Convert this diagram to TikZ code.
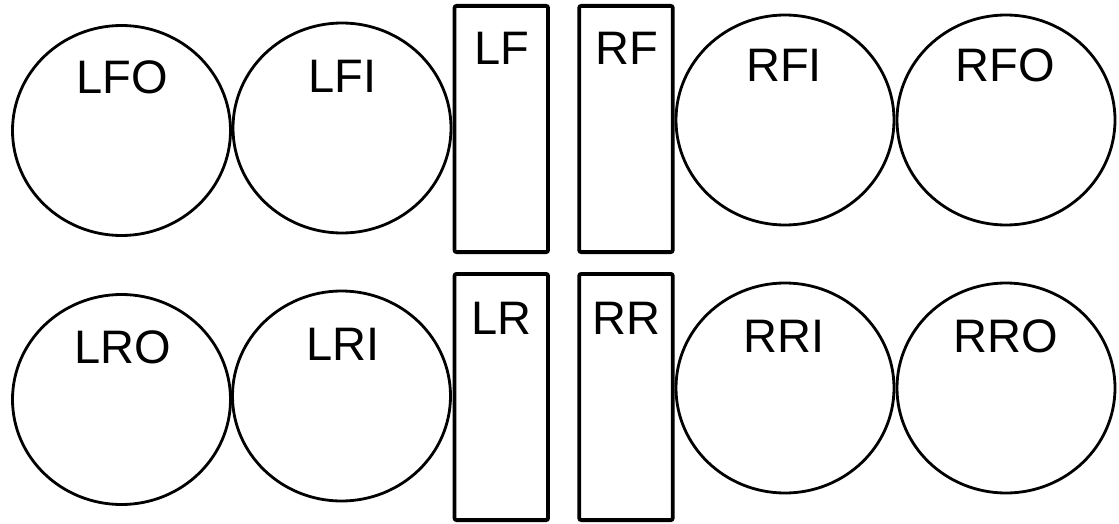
\documentclass[tikz,border=0pt]{standalone}
\usepackage{fontspec}
\setmainfont{Liberation Sans}
\usetikzlibrary{shapes.geometric}
\begin{document}
\begin{tikzpicture}[x=1pt,y=-1pt,
  wheel/.style={draw=black,line width=2.8pt,ellipse,minimum width=218pt,minimum height=210pt,inner sep=0pt},
  pad/.style={draw=black,line width=3.8pt,rectangle,rounded corners=2pt,minimum width=93.5pt,minimum height=246.2pt,inner sep=0pt},
  lbl/.style={anchor=base,font=\fontsize{47}{50}\selectfont,inner sep=0pt}]
\useasboundingbox (0,0) rectangle (1119,524);
% top row
\node[wheel] (LFOc) at (121.5,130.5) {};
\node[wheel] (LFIc) at (342,128) {};
\node[pad] (LFb) at (501.3,129) {};
\node[pad] (RFb) at (626,129) {};
\node[wheel] (RFIc) at (785,120) {};
\node[wheel] (RFOc) at (1006,120) {};
% bottom row
\node[wheel] (LROc) at (121.5,399.5) {};
\node[wheel] (LRIc) at (341.5,396) {};
\node[pad] (LRb) at (501.3,397) {};
\node[pad] (RRb) at (626,397) {};
\node[wheel] (RRIc) at (785,388) {};
\node[wheel] (RROc) at (1006,388) {};
% labels
\node[lbl] (LFO) at (122,94) {LFO};
\node[lbl] (LFI) at (342.5,93) {LFI};
\node[lbl] (LF) at (501.5,65) {LF};
\node[lbl] (RF) at (627,65) {RF};
\node[lbl] (RFI) at (784,82) {RFI};
\node[lbl] (RFO) at (1005.5,82) {RFO};
\node[lbl] (LRO) at (122.5,363) {LRO};
\node[lbl] (LRI) at (343,360) {LRI};
\node[lbl] (LR) at (501.5,334) {LR};
\node[lbl] (RR) at (626.5,334) {RR};
\node[lbl] (RRI) at (784,352) {RRI};
\node[lbl] (RRO) at (1006,352) {RRO};
\end{tikzpicture}
\end{document}
